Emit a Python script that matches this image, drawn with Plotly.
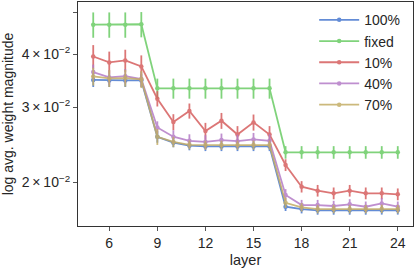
import plotly.graph_objects as go

layers = list(range(5, 25))

series_names = ["100%", "fixed", "10%", "40%", "70%"]
colors = ["#4878CF", "#6ACC65", "#D65F5F", "#B47CC7", "#C4AD66"]

vals_100 = [0.0348, 0.0347, 0.0347, 0.0347,
            0.0256, 0.0248, 0.0244, 0.0243, 0.0243, 0.0243, 0.0243, 0.0243,
            0.01755, 0.01733, 0.01721, 0.01721, 0.01721, 0.01721, 0.01722, 0.01722]
err_100 = [0.0013, 0.0012, 0.0012, 0.0012,
           0.0008, 0.0006, 0.0006, 0.0006, 0.0006, 0.0006, 0.0006, 0.0006,
           0.0004, 0.0004, 0.0004, 0.0004, 0.0004, 0.0004, 0.0004, 0.0004]

vals_fixed = [0.0469, 0.0469, 0.0469, 0.0470,
              0.03325, 0.03325, 0.03325, 0.03325, 0.03325, 0.03325, 0.03325, 0.03325,
              0.02354, 0.02354, 0.02354, 0.02354, 0.02354, 0.02354, 0.02354, 0.02354]
err_fixed = [0.0032, 0.0032, 0.0032, 0.0032,
             0.0018, 0.0018, 0.0018, 0.0018, 0.0018, 0.0018, 0.0018, 0.0018,
             0.0008, 0.0008, 0.0008, 0.0008, 0.0008, 0.0008, 0.0008, 0.0008]

vals_10 = [0.0395, 0.03825, 0.03866, 0.03743,
           0.03145, 0.02772, 0.02944, 0.0264, 0.02792, 0.02592, 0.02767, 0.02592,
           0.02198, 0.01955, 0.01914, 0.01887, 0.01914, 0.01887, 0.01887, 0.01877]
err_10 = [0.0025, 0.0023, 0.0023, 0.0023,
          0.0013, 0.0012, 0.0012, 0.0012, 0.0012, 0.0012, 0.0012, 0.0012,
          0.0007, 0.0006, 0.0006, 0.0006, 0.0006, 0.0006, 0.0006, 0.0006]

vals_40 = [0.0363, 0.03527, 0.03552, 0.03496,
           0.02693, 0.02562, 0.02505, 0.02492, 0.02515, 0.025, 0.02524, 0.02505,
           0.0187, 0.01771, 0.01771, 0.01762, 0.01778, 0.01755, 0.01787, 0.01755]
err_40 = [0.0015, 0.0014, 0.0014, 0.0014,
          0.0009, 0.0009, 0.0009, 0.0009, 0.0009, 0.0009, 0.0009, 0.0009,
          0.0006, 0.0005, 0.0005, 0.0005, 0.0005, 0.0005, 0.0005, 0.0005]

vals_70 = [0.03546, 0.03509, 0.03515, 0.03491,
           0.0256, 0.0249, 0.02452, 0.02448, 0.02448, 0.02448, 0.02448, 0.02448,
           0.01793, 0.01749, 0.01733, 0.01733, 0.01733, 0.01733, 0.01735, 0.01733]
err_70 = [0.0017, 0.0016, 0.0016, 0.0016,
          0.0011, 0.0007, 0.0006, 0.0006, 0.0006, 0.0006, 0.0006, 0.0006,
          0.0005, 0.0004, 0.0004, 0.0004, 0.0004, 0.0004, 0.0004, 0.0004]

all_vals = [vals_100, vals_fixed, vals_10, vals_40, vals_70]
all_errs = [err_100, err_fixed, err_10, err_40, err_70]

y_tickvals = [0.02, 0.03, 0.04, 0.05]
y_ticktext = ["2\u2009×\u200910<sup>−2</sup>", "3\u2009×\u200910<sup>−2</sup>",
              "4\u2009×\u200910<sup>−2</sup>", " "]
x_tickvals = [6, 9, 12, 15, 18, 21, 24]

fig = go.Figure()
for i, (name, col, v, e) in enumerate(zip(series_names, colors, all_vals, all_errs)):
    fig.add_trace(go.Scatter(
        x=layers, y=v, name=name, mode="lines+markers",
        legendgroup=f"g{i}",
        line=dict(color=col, width=1.8),
        marker=dict(color=col, size=4.5),
        opacity=0.85,
        error_y=dict(type="data", array=e, visible=True, color=col,
                     thickness=1.8, width=0),
    ))

font_family = "Liberation Sans, Arial, sans-serif"
fig.update_layout(
    width=415, height=271,
    margin=dict(l=78, r=2, t=2, b=45, autoexpand=False),
    paper_bgcolor="white", plot_bgcolor="white",
    font=dict(family=font_family, size=13, color="#262626"),
    showlegend=True,
    legend=dict(x=0.705, y=0.99, xanchor="left", yanchor="top",
                bgcolor="rgba(0,0,0,0)", borderwidth=0,
                font=dict(size=14, color="#262626"),
                tracegroupgap=0, itemwidth=40),
    xaxis=dict(range=[4.05, 24.95], tickvals=x_tickvals, automargin=False,
               ticks="outside", ticklen=4, tickwidth=1, tickcolor="#555",
               showline=True, mirror=True, linecolor="#333", linewidth=1.2,
               showgrid=False, zeroline=False,
               title=dict(text="layer", standoff=4, font=dict(size=14.5)),
               tickfont=dict(size=14)),
    yaxis=dict(type="log", range=[-1.8009, -1.2757], automargin=False,
               tickvals=y_tickvals, ticktext=y_ticktext,
               ticks="outside", ticklen=4, tickwidth=1, tickcolor="#555",
               showline=True, mirror=True, linecolor="#333", linewidth=1.2,
               showgrid=False, zeroline=False,
               title=dict(text="log avg. weight magnitude", standoff=4, font=dict(size=14)),
               tickfont=dict(size=14)),
)

fig.write_html("out.html", config={"displayModeBar": False},
               post_script="document.body.style.margin='0';document.body.style.overflow='hidden';")
